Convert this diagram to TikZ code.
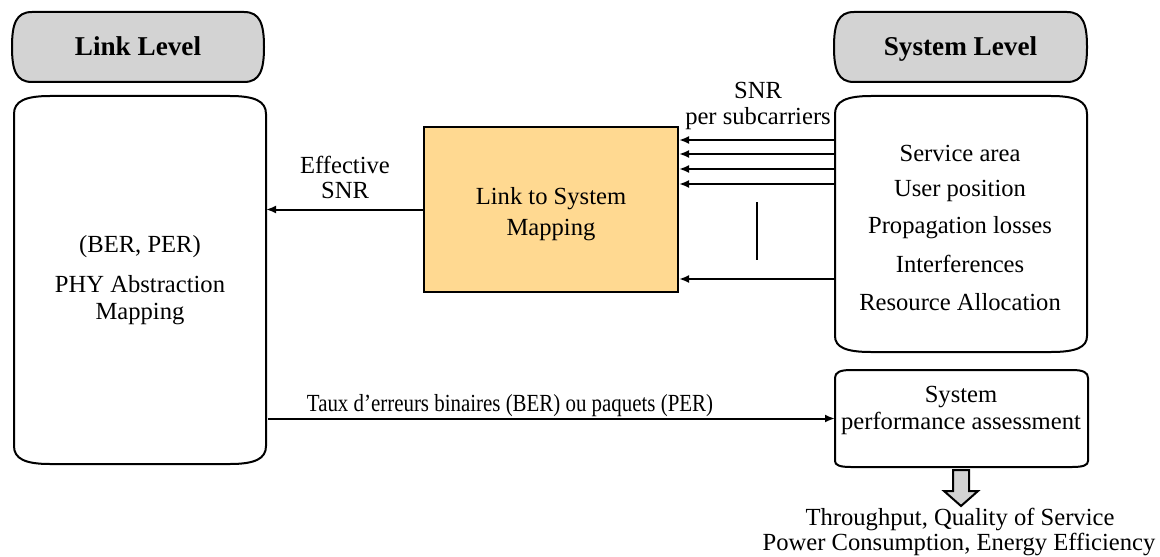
\documentclass[tikz,border=0pt]{standalone}
\usepackage{fontspec}
\usepackage{graphicx}
\setmainfont{Liberation Serif}
\usetikzlibrary{arrows.meta}
\definecolor{hdrgray}{RGB}{211,211,211}
\definecolor{mapyellow}{RGB}{255,217,145}
\tikzset{
  box/.style={draw, line width=1pt},
  frame/.style={inner sep=0pt, outer sep=0pt, minimum width=#1},
  txt/.style={font=\fontsize{12.3}{14}\selectfont, align=center, inner sep=0pt, text height=8pt, text depth=0pt},
  hdr/.style={font=\fontsize{13.6}{15}\selectfont\bfseries, align=center, inner sep=0pt, text height=9pt, text depth=0pt},
  arr/.style={-{Latex[length=5pt,width=4pt]}, line width=1pt},
}
\newcommand\capbox[4]{%
  \draw[box] ([yshift=-#3]#1.north west)
    .. controls ([yshift=-0.3*#3]#1.north west) and ([xshift=0.3*#2]#1.north west) ..
    ([xshift=#2]#1.north west) -- ([xshift=-#2]#1.north east)
    .. controls ([xshift=-0.3*#2]#1.north east) and ([yshift=-0.3*#3]#1.north east) ..
    ([yshift=-#3]#1.north east) -- ([yshift=#4]#1.south east)
    .. controls ([yshift=0.3*#4]#1.south east) and ([xshift=-0.3*#2]#1.south east) ..
    ([xshift=-#2]#1.south east) -- ([xshift=#2]#1.south west)
    .. controls ([xshift=0.3*#2]#1.south west) and ([yshift=0.3*#4]#1.south west) ..
    ([yshift=#4]#1.south west) -- cycle;}
\newcommand\pillbox[1]{%
  \draw[box, fill=hdrgray] ([xshift=10pt]#1.north west) -- ([xshift=-10pt]#1.north east)
    .. controls ([xshift=-2pt]#1.north east) and ([yshift=-6pt]#1.north east) .. (#1.east)
    .. controls ([yshift=6pt]#1.south east) and ([xshift=-2pt]#1.south east) .. ([xshift=-10pt]#1.south east)
    -- ([xshift=10pt]#1.south west)
    .. controls ([xshift=2pt]#1.south west) and ([yshift=6pt]#1.south west) .. (#1.west)
    .. controls ([yshift=-6pt]#1.north west) and ([xshift=2pt]#1.north west) .. ([xshift=10pt]#1.north west)
    -- cycle;}
\begin{document}
\begin{tikzpicture}[x=0.5pt, y=-0.5pt]
\useasboundingbox (0,0) rectangle (1160,556);
% frames
\node[frame=126pt, minimum height=35pt] (lhdr) at (138,47) {};
\node[frame=126.5pt, minimum height=35pt] (shdr) at (960.5,47) {};
\node[frame=126pt, minimum height=184pt] (link) at (140,280) {};
\node[frame=126pt, minimum height=128pt] (sys) at (961,224) {};
\node[frame=126.5pt, minimum height=48.5pt] (perf) at (961.5,418.5) {};
\pillbox{lhdr}
\pillbox{shdr}
\capbox{link}{18pt}{9pt}{9pt}
\capbox{sys}{18pt}{9pt}{8pt}
\capbox{perf}{8pt}{4pt}{3pt}
\node[box, fill=mapyellow, minimum width=127pt, minimum height=82.5pt, inner sep=0pt] (map) at (551,209.5) {};
% texts
\node[hdr] (lhdrt) at (lhdr) {Link Level};
\node[hdr] (shdrt) at (shdr) {System Level};
\node[txt] (bp) at (140,244) {(BER, PER)};
\node[txt] (phy) at (140,284) {PHY Abstraction};
\node[txt] (phym) at (140,311) {Mapping};
\node[txt] (m1) at (551,196) {Link to System};
\node[txt] (m2) at (551,227) {Mapping};
\node[txt] (s1) at (960,153) {Service area};
\node[txt] (s2) at (960,188) {User position};
\node[txt] (s3) at (960,225) {Propagation losses};
\node[txt] (s4) at (960,264) {Interferences};
\node[txt] (s5) at (960,302) {Resource Allocation};
\node[txt] (p1) at (961,394) {System};
\node[txt] (p2) at (961,421) {performance assessment};
\node[font=\fontsize{12.3}{12.8}\selectfont, align=center, inner sep=0pt] (snr) at (758,106) {SNR\\per subcarriers};
\node[txt] (eff1) at (345,165) {Effective};
\node[txt] (eff2) at (345,190) {SNR};
\node[txt] (taux) at (510,403) {\scalebox{0.85}[1]{Taux d’erreurs binaires (BER) ou paquets (PER)}};
\node[txt] (out1) at (960,517) {Throughput, Quality of Service};
\node[txt] (out2) at (959,542) {Power Consumption, Energy Efficiency};
% connectors
\foreach \yy in {140,154,169,184,279}
  \draw[arr] (sys.west |- 0,\yy) -- (map.east |- 0,\yy);
\draw[line width=1pt] (757,202) -- (757,260);
\draw[arr] (map.west) -- (map.west -| link.east);
\draw[arr] ([xshift=1pt]perf.west -| link.east) -- (perf.west);
\draw[line width=1pt, fill=hdrgray] (953,470) -- (969,470) -- (969,491) -- (978,491) -- (961,506) -- (944,491) -- (953,491) -- cycle;
\end{tikzpicture}
\end{document}
